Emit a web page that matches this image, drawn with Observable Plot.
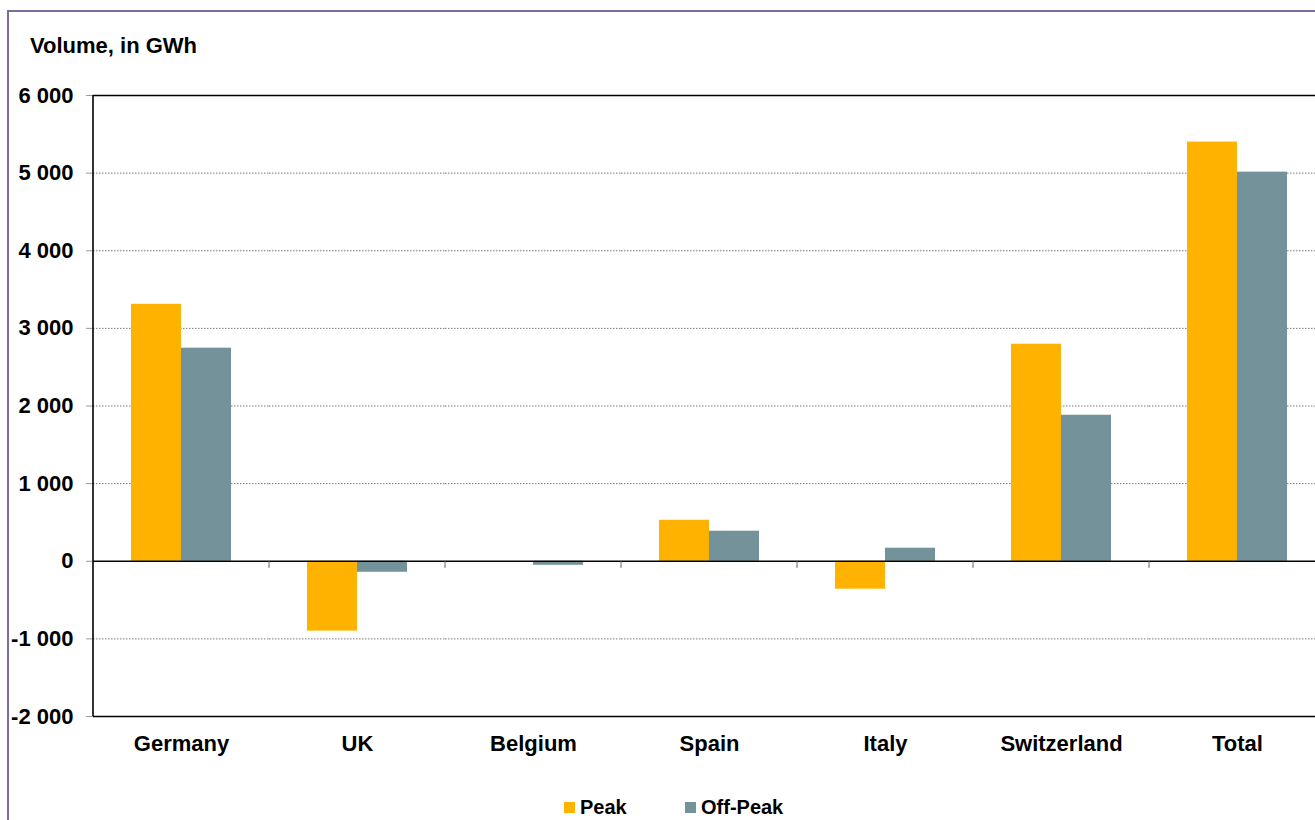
<!DOCTYPE html>
<html><head><meta charset="utf-8">
<script src="https://cdn.jsdelivr.net/npm/d3@7"></script>
<script src="https://cdn.jsdelivr.net/npm/@observablehq/plot@0.6"></script>
<style>
body{margin:0;background:#fff;overflow:hidden;font-family:Arial,"Liberation Sans",sans-serif;}
#wrap{position:relative;width:1315px;height:820px;overflow:hidden;background:#fff;}
#border{position:absolute;left:7px;top:10px;width:2000px;height:2000px;border:2px solid #7d6d9c;}
#title{position:absolute;left:30px;top:34px;font-weight:bold;font-size:22px;line-height:24px;color:#000;white-space:nowrap;}
#chart{position:absolute;left:0;top:60px;width:1340px;}
#chart svg{max-width:none !important;width:1340px !important;height:720px !important;}
.lg{position:absolute;top:796px;font-weight:bold;font-size:20px;line-height:22px;color:#000;white-space:nowrap;}
.sw{position:absolute;top:802px;width:11px;height:11px;}
</style></head>
<body>
<div id="wrap">
  <div id="border"></div>
  <div id="title">Volume, in GWh</div>
  <div id="chart"></div>
  <div id="legend"></div>
</div>
<script>
const categories = ["Germany", "UK", "Belgium", "Spain", "Italy", "Switzerland", "Total"];
const seriesNames = ["Peak", "Off-Peak"];
const seriesColors = ["#FFB300", "#74929A"];
const peak = [3310, -900, 0, 528, -360, 2796, 5400];
const offPeak = [2745, -142, -52, 387, 168, 1881, 5013];
const yTicks = [-2000, -1000, 0, 1000, 2000, 3000, 4000, 5000, 6000];
const gridTicks = [-1000, 1000, 2000, 3000, 4000, 5000];

const rows = [];
categories.forEach((c, i) => {
  rows.push({category: c, series: seriesNames[0], value: peak[i]});
  rows.push({category: c, series: seriesNames[1], value: offPeak[i]});
});

const fmt = d => d3.format(",")(d).replace(/,/g, " ").replace("−", "-");

const chart = Plot.plot({
  width: 1340, height: 720,
  marginTop: 35, marginBottom: 64, marginLeft: 93, marginRight: 15,
  style: {fontFamily: "Arial, 'Liberation Sans', sans-serif", fontSize: "22px", fontWeight: "bold", color: "#000", background: "transparent", overflow: "visible", maxWidth: "none"},
  fx: {domain: categories, padding: 0, label: null},
  x: {domain: seriesNames, paddingInner: 0, paddingOuter: 0.76, axis: null},
  y: {domain: [-2000, 6000], label: null},
  color: {domain: seriesNames, range: seriesColors},
  marks: [
    Plot.ruleY(gridTicks, {stroke: "#7a7a7a", strokeDasharray: "1.5,1.5", strokeWidth: 1}),
    Plot.barY(rows, {fx: "category", x: "series", y: "value", fill: "series"}),
    Plot.ruleY([0], {stroke: "#000", strokeWidth: 1.6}),
    Plot.ruleY([-2000, 6000], {stroke: "#000", strokeWidth: 1.6}),
    Plot.axisY({ticks: yTicks, tickSize: 7, tickPadding: 13, tickFormat: fmt, stroke: "#9a9a9a", fill: "#000", label: null}),
    Plot.axisFx({anchor: "bottom", tickSize: 0, tickPadding: 19, label: null, fill: "#000"})
  ]
});
document.getElementById("chart").appendChild(chart);

// separator ticks on the zero line and left frame line, positioned from Plot's scales
const fxs = chart.scale("fx"), ys = chart.scale("y");
const svg = d3.select(chart);
const y0 = ys.apply(0);
const bw = fxs.apply(categories[1]) - fxs.apply(categories[0]);
const bounds = categories.slice(1).map(c => fxs.apply(c)).concat([fxs.apply(categories[categories.length - 1]) + bw]);
svg.append("g").selectAll("line").data(bounds).join("line")
  .attr("x1", d => d).attr("x2", d => d)
  .attr("y1", y0 + 1).attr("y2", y0 + 7)
  .attr("stroke", "#b0b0b0").attr("stroke-width", 2);
const xl = fxs.apply(categories[0]);
svg.append("line").attr("x1", xl).attr("x2", xl)
  .attr("y1", ys.apply(6000)).attr("y2", ys.apply(-2000))
  .attr("stroke", "#000").attr("stroke-width", 1.6);

// legend
const legend = document.getElementById("legend");
const lgX = [564, 685];
seriesNames.forEach((s, i) => {
  const sw = document.createElement("div");
  sw.className = "sw"; sw.style.left = lgX[i] + "px"; sw.style.background = seriesColors[i];
  legend.appendChild(sw);
  const t = document.createElement("div");
  t.className = "lg"; t.style.left = (lgX[i] + 16) + "px"; t.textContent = s;
  legend.appendChild(t);
});
</script>
</body></html>
